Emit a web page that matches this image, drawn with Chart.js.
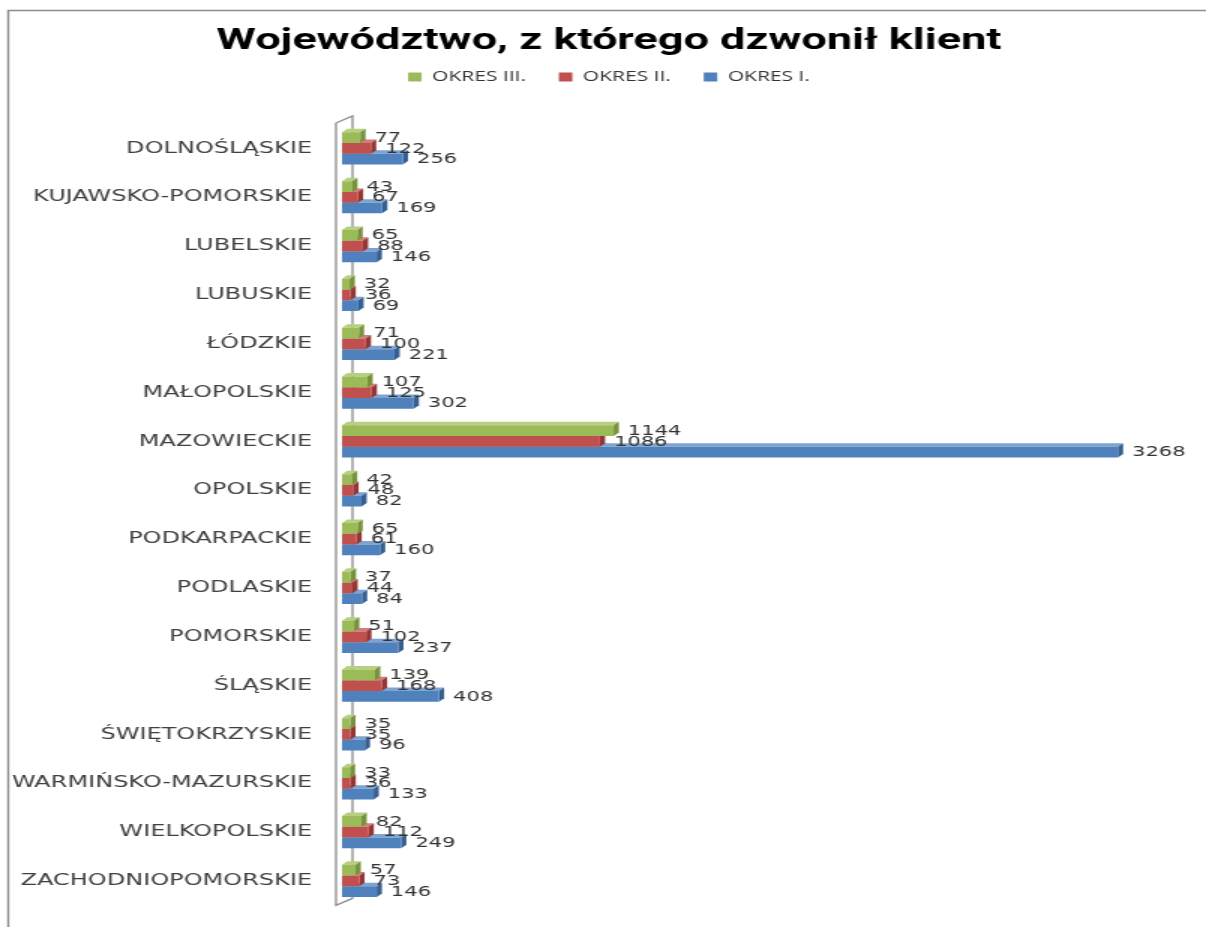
<!DOCTYPE html>
<html>
<head>
<meta charset="utf-8">
<script src="https://cdn.jsdelivr.net/npm/chart.js@4"></script>
<style>
  html, body { margin: 0; padding: 0; background: #fff; overflow: hidden; }
</style>
</head>
<body>
<canvas id="chart" width="804" height="927" style="display:block;width:1206px;height:927px"></canvas>
<script>
const categories = [
  "DOLNOŚLĄSKIE", "KUJAWSKO-POMORSKIE", "LUBELSKIE", "LUBUSKIE", "ŁÓDZKIE",
  "MAŁOPOLSKIE", "MAZOWIECKIE", "OPOLSKIE", "PODKARPACKIE", "PODLASKIE",
  "POMORSKIE", "ŚLĄSKIE", "ŚWIĘTOKRZYSKIE", "WARMIŃSKO-MAZURSKIE",
  "WIELKOPOLSKIE", "ZACHODNIOPOMORSKIE",
];
const okres3 = [77, 43, 65, 32, 71, 107, 1144, 42, 65, 37, 51, 139, 35, 33, 82, 57];
const okres2 = [122, 67, 88, 36, 100, 125, 1086, 48, 61, 44, 102, 168, 35, 36, 112, 73];
const okres1 = [256, 169, 146, 69, 221, 302, 3268, 82, 160, 84, 237, 408, 96, 133, 249, 146];
const seriesNames = ["OKRES III.", "OKRES II.", "OKRES I."];

// front / top / side colours for the fake 3D look
const fronts = ["#9bbb59", "#c0504d", "#4f81bd"];
const tops = ["#b6d07f", "#d47c79", "#7ea3d0"];
const sides = ["#76923c", "#943634", "#365f91"];

const DX = 3.5, DY = 3.5;

// frame round the chart (only left and top are inside the picture)
const framePlugin = {
  id: "frame",
  beforeDraw: (chart) => {
    const ctx = chart.ctx;
    ctx.save();
    ctx.strokeStyle = "#8c8c8c";
    ctx.lineWidth = 1.4;
    ctx.beginPath();
    ctx.moveTo(5.5, chart.height);
    ctx.lineTo(5.5, 10.5);
    ctx.lineTo(chart.width, 10.5);
    ctx.stroke();
    ctx.restore();
  },
};

// thin 3D wall + top and side faces of the bars
const depthPlugin = {
  id: "depth",
  beforeDatasetsDraw: (chart) => {
    const ctx = chart.ctx;
    const x0 = chart.scales.x.getPixelForValue(0);
    const { top, bottom } = chart.chartArea;
    ctx.save();
    ctx.strokeStyle = "#8c8c8c";
    ctx.lineWidth = 1.3;
    ctx.beginPath();
    ctx.moveTo(x0 + 7, bottom - 7);
    ctx.lineTo(x0 - 4, bottom);
    ctx.lineTo(x0 - 4, top - 1);
    ctx.lineTo(x0 + 7, top - 8);
    ctx.lineTo(x0 + 7, bottom - 7);
    ctx.stroke();

    for (let i = chart.data.datasets.length - 1; i >= 0; i--) {
      const meta = chart.getDatasetMeta(i);
      meta.data.forEach((bar) => {
        const { x, y, base, height } = bar.getProps(["x", "y", "base", "height"], true);
        const t = y - height / 2;
        const b = y + height / 2;
        ctx.fillStyle = tops[i];
        ctx.beginPath();
        ctx.moveTo(base, t);
        ctx.lineTo(x, t);
        ctx.lineTo(x + DX, t - DY);
        ctx.lineTo(base + DX, t - DY);
        ctx.closePath();
        ctx.fill();
        ctx.fillStyle = sides[i];
        ctx.beginPath();
        ctx.moveTo(x, t);
        ctx.lineTo(x + DX, t - DY);
        ctx.lineTo(x + DX, b - DY);
        ctx.lineTo(x, b);
        ctx.closePath();
        ctx.fill();
      });
    }
    ctx.restore();
  },
};

const valueLabels = {
  id: "valueLabels",
  afterDatasetsDraw: (chart) => {
    const ctx = chart.ctx;
    ctx.save();
    ctx.font = "14px 'DejaVu Sans'";
    ctx.fillStyle = "#333333";
    ctx.textAlign = "left";
    ctx.textBaseline = "middle";
    chart.data.datasets.forEach((ds, i) => {
      chart.getDatasetMeta(i).data.forEach((bar, j) => {
        ctx.fillText(String(ds.data[j]), bar.x + 9.5, bar.y + 0.5);
      });
    });
    ctx.restore();
  },
};

const seriesData = [okres3, okres2, okres1];

new Chart(document.getElementById("chart").getContext("2d"), {
  type: "bar",
  data: {
    labels: categories,
    datasets: seriesNames.map((name, i) => ({
      label: name,
      data: seriesData[i],
      backgroundColor: fronts[i],
      borderWidth: 0,
      categoryPercentage: 0.66,
      barPercentage: 1,
    })),
  },
  options: {
    indexAxis: "y",
    responsive: false,
    devicePixelRatio: 1,
    animation: false,
    layout: { padding: { left: 8, right: 0, top: 0, bottom: 20 } },
    scales: {
      x: {
        position: "top",
        min: 0,
        max: 3639,
        grid: { display: false },
        border: { display: false },
        ticks: { display: false },
        afterFit: (s) => { s.height = 30; },
      },
      y: {
        grid: { display: false },
        border: { display: false },
        ticks: {
          padding: 12,
          color: "#404040",
          font: { family: "'DejaVu Sans'", size: 16 },
        },
        afterFit: (s) => { s.width = 220; },
      },
    },
    plugins: {
      title: {
        display: true,
        text: "Województwo, z którego dzwonił klient",
        color: "#000000",
        font: { family: "Roboto", size: 30, weight: "bold", lineHeight: 1.2 },
        padding: { top: 23, bottom: 0 },
      },
      legend: {
        labels: {
          boxWidth: 9,
          boxHeight: 9,
          padding: 11,
          color: "#333333",
          font: { family: "'Open Sans'", size: 14 },
          generateLabels: (chart) => {
            const items = Chart.defaults.plugins.legend.labels.generateLabels(chart);
            items.forEach((it, i) => {
              if (i < items.length - 1) it.text = it.text + "   ";
            });
            return items;
          },
        },
      },
      tooltip: { enabled: false },
    },
  },
  plugins: [framePlugin, depthPlugin, valueLabels],
});
</script>
</body>
</html>
